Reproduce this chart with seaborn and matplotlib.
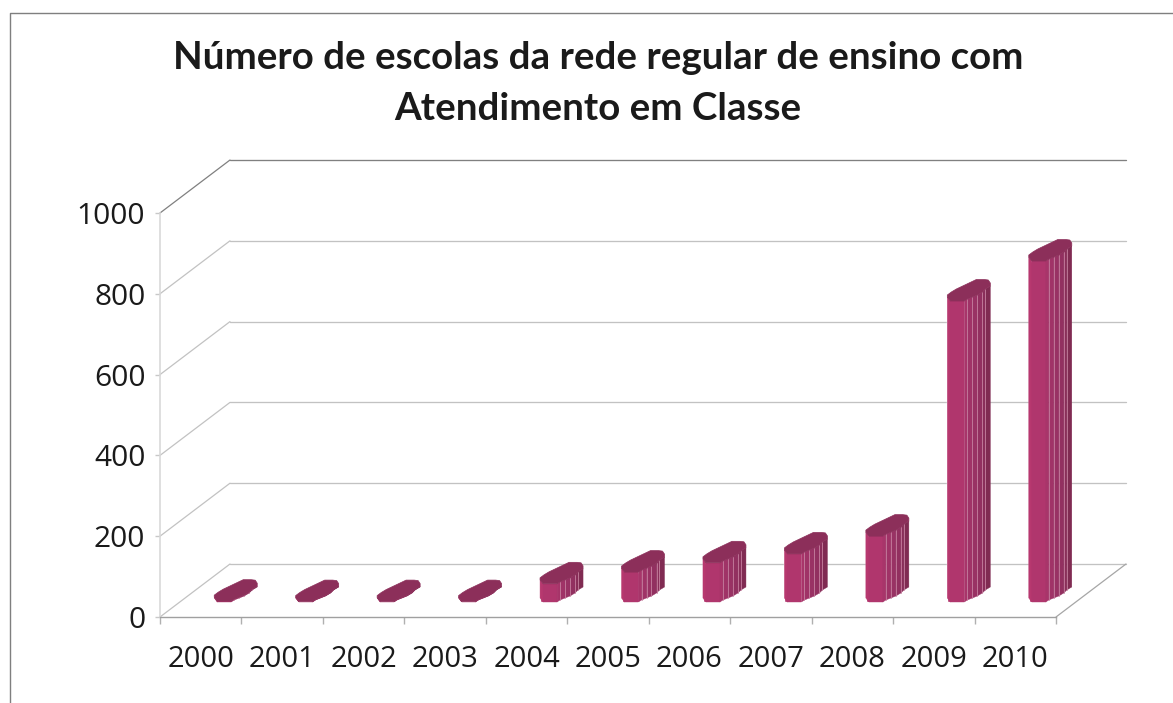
"""Number of schools chart, cylinder columns drawn over a seaborn barplot."""

import matplotlib
matplotlib.use("Agg")
import matplotlib.pyplot as plt
import seaborn as sns
from matplotlib.lines import Line2D
from matplotlib.patches import Polygon

years = ["2000", "2001", "2002", "2003", "2004", "2005", "2006", "2007", "2008", "2009", "2010"]
schools = [2, 1, 1, 1, 45, 74, 97, 119, 163, 745, 844]
y_ticks = [0, 200, 400, 600, 800, 1000]
title = "Número de escolas da rede regular de ensino com\nAtendimento em Classe"

W, H = 1173, 703
X0, X1, Y0, Y1 = 160, 1056, 617, 213  # front plane in pixels
DEPTH_X, DEPTH_Y = 70, 53  # shift of the back wall

PX_X = 11 / (X1 - X0)  # category units per pixel
PX_Y = 1000 / (Y0 - Y1)  # value units per pixel

# cylinder outline in pixels from the lower left of the bar
FRONT = [(0, 4), (3, 0), (17, 0), (20, 2), (25, 4), (30, 6), (35, 9), (38, 12), (43, 15)]
BACK = [(43, 18), (41, 21), (37, 21.5), (29, 21.5), (9, 12), (4, 9), (0, 6)]
FACE_COLORS = ["#b7386f", "#b0366d", "#a8356a", "#a03367", "#993264", "#923060", "#8a2e5a", "#802b52"]

sns.set_theme(style="white")

fig = plt.figure(figsize=(W / 100, H / 100), dpi=100, facecolor="white")
ax = fig.add_axes([X0 / W, 1 - Y0 / H, (X1 - X0) / W, (Y0 - Y1) / H])

sns.barplot(x=years, y=schools, color=FACE_COLORS[1], width=17 * PX_X, saturation=1, ax=ax, zorder=3)
ax.set_xlim(-0.5, 10.5)
ax.set_ylim(0, 1000)


def wall_x(px):
    return px * PX_X - 0.5


# walls: back gridlines, side diagonals and the floor's right edge
for v in y_ticks:
    col = "#808080" if v == 1000 else "#c2c2c2"
    ax.add_line(Line2D([wall_x(0), wall_x(DEPTH_X)], [v, v + DEPTH_Y * PX_Y], color=col, lw=0.9, clip_on=False, zorder=1))
    ax.add_line(Line2D([wall_x(DEPTH_X), wall_x(X1 - X0 + DEPTH_X)], [v + DEPTH_Y * PX_Y] * 2,
                       color=col, lw=0.95, clip_on=False, zorder=1))
ax.add_line(Line2D([wall_x(X1 - X0), wall_x(X1 - X0 + DEPTH_X)], [0, DEPTH_Y * PX_Y],
                   color="#a6a6a6", lw=0.9, clip_on=False, zorder=1))

# bars sit inside the floor, so the seaborn rectangles get moved there, then faceted
LEFT_SHIFT = 13.5
BASE_UP = 15
for i, (bar, v) in enumerate(zip(ax.patches, schools)):
    left = i + LEFT_SHIFT * PX_X
    base = BASE_UP * PX_Y
    bar.set_x(left)
    bar.set_y(base)
    bar.set_clip_on(False)
    for j in range(len(FRONT) - 1):
        (xa, ua), (xb, ub) = FRONT[j], FRONT[j + 1]
        face = [(left + xa * PX_X, base + ua * PX_Y), (left + xb * PX_X, base + ub * PX_Y),
                (left + xb * PX_X, base + v + ub * PX_Y), (left + xa * PX_X, base + v + ua * PX_Y)]
        ax.add_patch(Polygon(face, closed=True, fc=FACE_COLORS[j], ec=FACE_COLORS[j], lw=0.3, clip_on=False, zorder=4))
        if 2 <= j < len(FRONT) - 2:
            ax.add_line(Line2D([left + xb * PX_X] * 2, [base + ub * PX_Y, base + v + ub * PX_Y],
                               color="#c67f9f", lw=0.6, clip_on=False, zorder=5))
    top = [(left + x * PX_X, base + v + u * PX_Y) for x, u in FRONT + BACK]
    ax.add_patch(Polygon(top, closed=True, fc="#8c2f5a", ec="#8c2f5a", lw=0.5, clip_on=False, zorder=6))

# axes
sns.despine(ax=ax)
ax.spines["left"].set_color("#d9d9d9")
ax.spines["left"].set_linewidth(1.2)
ax.spines["bottom"].set_color("#a0a0a0")
ax.spines["bottom"].set_linewidth(1.0)
ax.set_yticks(y_ticks)
ax.set_xticks(range(len(years)))
ax.set_xticklabels(years)
ax.set_xticks([k - 0.5 for k in range(len(years) + 1)], minor=True)
ax.tick_params(axis="x", which="major", length=0, pad=20, labelsize=21, labelcolor="#1a1a1a")
ax.tick_params(axis="x", which="minor", length=5, width=1, color="#b0b0b0", bottom=True)
ax.tick_params(axis="y", length=3.6, width=1, color="#c8c8c8", left=True, pad=7, labelsize=21.5, labelcolor="#1a1a1a")
ax.set_xlabel("")
ax.set_ylabel("")
for lab in ax.get_xticklabels() + ax.get_yticklabels():
    lab.set_family(["Open Sans", "DejaVu Sans"])

# chart frame, only the top and left edges show
fig.add_artist(Line2D([10 / W, 10 / W, 1], [0, 1 - 13 / H, 1 - 13 / H], color="#7f7f7f", lw=1))

fig.text(598 / W, 1 - 83.5 / H, title, ha="center", va="center", fontsize=27.7, fontweight="bold",
         family=["Lato", "DejaVu Sans"], color="#1a1a1a", linespacing=1.6)

fig.savefig("out.png", dpi=100)
